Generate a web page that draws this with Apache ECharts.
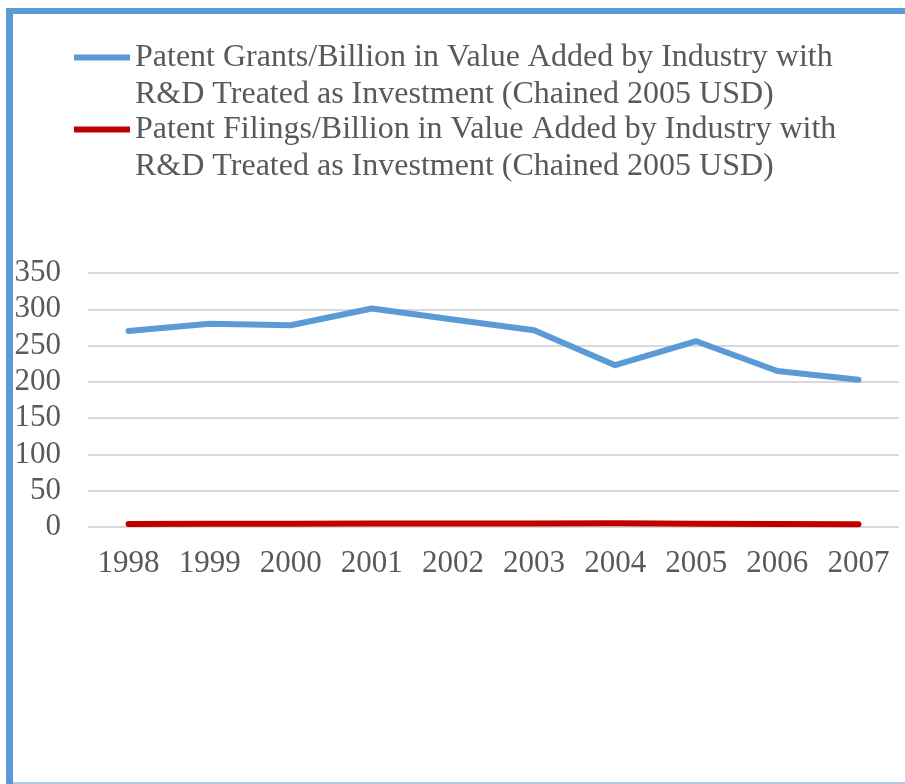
<!DOCTYPE html>
<html>
<head>
<meta charset="utf-8">
<script src="https://cdn.jsdelivr.net/npm/echarts@6/dist/echarts.min.js"></script>
<style>
  html, body { margin: 0; padding: 0; background: #fff; }
  #chart { width: 905px; height: 784px; }
</style>
</head>
<body>
<div id="chart"></div>
<script>
// data
var years = ['1998', '1999', '2000', '2001', '2002', '2003', '2004', '2005', '2006', '2007'];
var grantsPerBillion = [270, 280, 278, 301, 286, 271, 223, 256, 215, 203];
var filingsPerBillion = [4.3, 4.4, 4.4, 4.8, 4.8, 4.9, 5.2, 4.5, 4.2, 3.9];
var grantsName = 'Patent Grants/Billion in Value Added by Industry with\nR&D Treated as Investment (Chained 2005 USD)';
var filingsName = 'Patent Filings/Billion in Value Added by Industry with\nR&D Treated as Investment (Chained 2005 USD)';

var blue = '#5B9BD5';
var red = '#C00000';
var textColor = '#595959';
var font = '"Liberation Serif", "Times New Roman", serif';

var chart = echarts.init(document.getElementById('chart'));

// bar at the top of a taller box so the swatch sits beside the first text line
var legendIcon = 'path://M0,0h56v6h-56z M0,43L0,43';

function legendFor(name, top) {
    return {
        data: [name],
        orient: 'vertical',
        left: 74,
        top: top,
        icon: legendIcon,
        itemWidth: 56,
        itemHeight: 43,
        itemGap: 0,
        padding: 0,
        textStyle: {
            color: textColor,
            fontFamily: font,
            fontSize: 32,
            lineHeight: 37
        }
    };
}

chart.setOption({
    animation: false,
    textStyle: { fontFamily: font },
    graphic: [
        // frame round the figure (cropped on the right)
        { type: 'rect', shape: { x: 6, y: 8, width: 905, height: 6 }, style: { fill: blue } },
        { type: 'rect', shape: { x: 6, y: 8, width: 7, height: 790 }, style: { fill: blue } },
        { type: 'rect', shape: { x: 13, y: 782, width: 900, height: 2 }, style: { fill: '#B4C7E7' } }
    ],
    legend: [
        legendFor(grantsName, 39),
        legendFor(filingsName, 111)
    ],
    grid: {
        left: 88,
        right: 6,
        top: 273,
        bottom: 257,
        containLabel: false
    },
    xAxis: {
        type: 'category',
        data: years,
        boundaryGap: true,
        axisLine: { show: false },
        axisTick: { show: false },
        axisLabel: {
            color: textColor,
            fontFamily: font,
            fontSize: 31,
            margin: 21,
            interval: 0
        }
    },
    yAxis: {
        type: 'value',
        min: 0,
        max: 350,
        interval: 50,
        axisLine: { show: false },
        axisTick: { show: false },
        axisLabel: {
            color: textColor,
            fontFamily: font,
            fontSize: 31,
            margin: 27
        },
        splitLine: { lineStyle: { color: '#D9D9D9', width: 2 } }
    },
    series: [
        {
            name: grantsName,
            type: 'line',
            data: grantsPerBillion,
            showSymbol: false,
            symbol: 'none',
            color: blue,
            lineStyle: { color: blue, width: 6, cap: 'round', join: 'round' }
        },
        {
            name: filingsName,
            type: 'line',
            data: filingsPerBillion,
            showSymbol: false,
            symbol: 'none',
            color: red,
            lineStyle: { color: red, width: 6, cap: 'round', join: 'round' }
        }
    ]
});
</script>
</body>
</html>
